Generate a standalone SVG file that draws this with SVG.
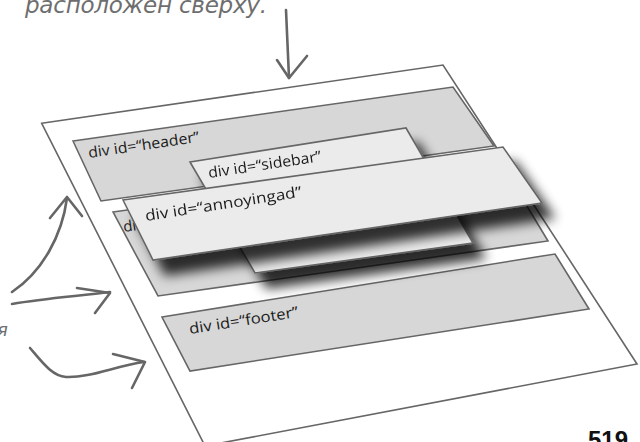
<svg xmlns="http://www.w3.org/2000/svg" width="640" height="442" viewBox="0 0 640 442">
<defs>
<style>
.pg{fill:#ffffff;stroke:#666;stroke-width:1.6}
.gray{fill:#d7d7d7;stroke:#666;stroke-width:1.6}
.light{fill:#ebebeb;stroke:#666;stroke-width:1.6}
.lbl{font-family:"Open Sans","Noto Sans",sans-serif;font-size:15px;fill:#1a1a1a}
.hand{font-family:"DejaVu Sans","Liberation Sans",sans-serif;font-style:italic;fill:#6e6e6e}
.arr{fill:none;stroke:#666;stroke-width:2.6;stroke-linecap:round;stroke-linejoin:round}
</style>
<filter id="sh" x="-20%" y="-30%" width="150%" height="190%">
<feGaussianBlur in="SourceAlpha" stdDeviation="6"/>
<feOffset dx="12" dy="15"/>
<feComponentTransfer><feFuncA type="linear" slope="0.8"/></feComponentTransfer>
<feMerge><feMergeNode/><feMergeNode in="SourceGraphic"/></feMerge>
</filter>
</defs>
<rect width="640" height="442" fill="#fff"/>
<g id="page"><polygon class="pg" points="41.7,123.3 443,65 637,364 205,446"/></g>
<g id="header">
<polygon class="gray" points="73,141 453,87 494,146 101,201"/>
<text class="lbl" x="89" y="158" transform="rotate(-8.3 89 158)" textLength="112" lengthAdjust="spacingAndGlyphs">div id=“header”</text>
</g>
<g id="content">
<polygon class="gray" points="113,212 498,158 548,241 158,296"/>
<text class="lbl" x="124" y="232" transform="rotate(-8.3 124 232)">di</text>
</g>
<g id="footer">
<polygon class="gray" points="162,317 555,254 589,309 190,371"/>
<text class="lbl" x="190" y="334" transform="rotate(-9 190 334)" textLength="110" lengthAdjust="spacingAndGlyphs">div id=“footer”</text>
</g>
<g id="sidebar" filter="url(#sh)">
<polygon class="light" points="190,162 406,128 473,243 255,273"/>
<text class="lbl" x="209" y="178" transform="rotate(-8.5 209 178)" textLength="114" lengthAdjust="spacingAndGlyphs">div id=“sidebar”</text>
</g>
<g id="annoyingad" filter="url(#sh)">
<polygon class="light" points="123,200 503,147 542,203 153,260"/>
<text class="lbl" x="146" y="221" transform="rotate(-8.8 146 221)" textLength="158" lengthAdjust="spacingAndGlyphs">div id=“annoyingad”</text>
</g>
<g id="connectors">
<path class="arr" d="M286,10 L289,78"/>
<path class="arr" d="M277,60 L289,78 L307,56"/>
<path class="arr" d="M12,292 C42,272 62,236 67,198"/>
<path class="arr" d="M50,218 L67,197 L82,216"/>
<path class="arr" d="M12,304 C45,298 80,296 110,292"/>
<path class="arr" d="M77,288 L110,293 L95,313"/>
<path class="arr" d="M30,348 C42,362 52,376 66,377 C90,378 115,366 144,362"/>
<path class="arr" d="M113,354 L145,362 L132,388"/>
</g>
<text class="hand" x="25" y="13" font-size="23" textLength="242">расположен сверху.</text>
<text class="hand" x="-3" y="336" font-size="18">я</text>
<text x="588" y="448" font-family="Liberation Sans,Arial,sans-serif" font-weight="bold" font-size="24" fill="#111">519</text>
</svg>
